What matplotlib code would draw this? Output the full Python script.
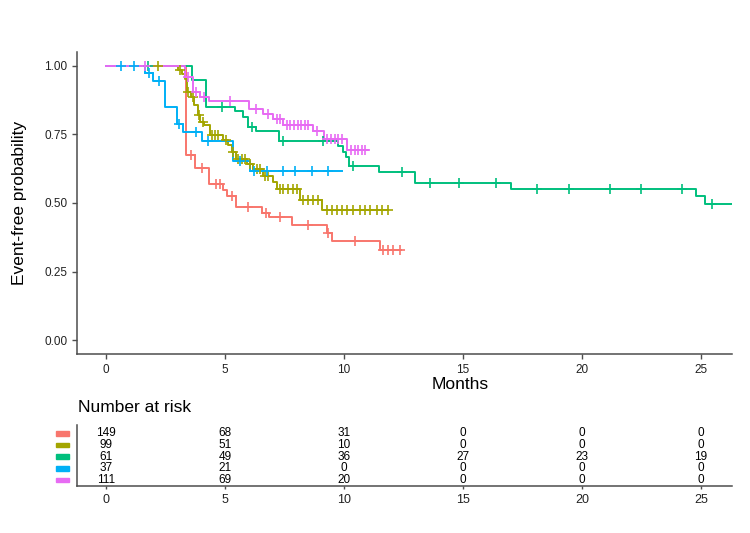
import numpy as np
import matplotlib
matplotlib.use("Agg")
import matplotlib.pyplot as plt
from matplotlib.patches import Rectangle
from matplotlib.transforms import blended_transform_factory

plt.rcParams["font.family"] = ["Liberation Sans", "DejaVu Sans"]

# ggplot default hue palette, 5 groups
colors = ["#F8766D", "#A3A500", "#00BF7D", "#00B0F6", "#E76BF3"]

# step times (months) and survival just after each step
red_t = [3.38, 3.72, 4.33, 4.90, 5.07, 5.47, 6.54, 6.86, 7.83, 9.27, 9.51, 11.51]
red_s = [0.674, 0.627, 0.570, 0.547, 0.525, 0.486, 0.465, 0.449, 0.418, 0.390, 0.360, 0.327]
red_c = [3.57, 4.02, 4.60, 4.80, 5.28, 5.98, 6.71, 7.31, 8.50, 9.34, 10.46,
         11.62, 11.86, 12.07, 12.35]
red_end = 12.41

olive_t = [3.04, 3.18, 3.30, 3.42, 3.58, 3.70, 3.86, 3.95, 4.12, 4.37, 4.93, 5.12,
           5.28, 5.45, 5.91, 6.19, 6.61, 7.03, 7.17, 8.15, 9.06]
olive_s = [0.985, 0.970, 0.954, 0.905, 0.885, 0.856, 0.820, 0.796, 0.783, 0.747,
           0.729, 0.710, 0.686, 0.662, 0.644, 0.625, 0.600, 0.577, 0.552, 0.512, 0.473]
olive_c = [2.17, 3.11, 3.46, 3.67, 3.92, 4.09, 4.44, 4.58, 4.72, 5.03, 5.35, 5.56,
           5.70, 5.84, 6.05, 6.33, 6.47, 6.68, 6.82, 7.31, 7.45, 7.66, 7.87, 8.01,
           8.29, 8.50, 8.71, 8.92, 9.27, 9.48, 9.69, 9.90, 10.11, 10.39, 10.67,
           10.88, 11.09, 11.37, 11.58, 11.86]
olive_end = 11.86

green_t = [3.60, 4.19, 5.40, 5.77, 5.98, 6.30, 7.27, 9.76, 9.95, 10.10, 10.20,
           11.48, 12.97, 17.03, 24.80, 25.18]
green_s = [0.949, 0.851, 0.836, 0.814, 0.777, 0.763, 0.725, 0.707, 0.686, 0.668,
           0.634, 0.613, 0.574, 0.552, 0.524, 0.498]
green_c = [1.75, 4.86, 6.12, 7.42, 9.13, 10.38, 12.44, 13.63, 14.85, 16.39, 18.09,
           19.45, 21.19, 22.47, 24.19, 25.48]
green_end = 26.28

blue_t = [1.64, 1.99, 2.49, 3.00, 3.25, 4.05, 5.35, 6.05]
blue_s = [0.973, 0.946, 0.851, 0.790, 0.760, 0.727, 0.653, 0.616]
blue_c = [0.63, 1.19, 1.82, 2.24, 3.08, 3.76, 4.30, 5.63, 6.23, 6.78, 7.45, 7.94,
          8.64, 9.34]
blue_end = 9.90

pink_t = [3.32, 3.66, 3.95, 4.32, 6.00, 6.61, 7.03, 7.45, 8.69, 9.14, 10.11]
pink_s = [0.958, 0.906, 0.888, 0.872, 0.844, 0.826, 0.808, 0.783, 0.763, 0.735, 0.695]
pink_c = [1.65, 3.45, 3.80, 4.10, 5.21, 6.30, 6.82, 7.17, 7.31, 7.60, 7.75, 7.90,
          8.05, 8.20, 8.35, 8.50, 8.85, 9.30, 9.45, 9.60, 9.75, 9.90, 10.30,
          10.45, 10.60, 10.75, 10.90]
pink_end = 11.0

risk_times = [0, 5, 10, 15, 20, 25]
risk_red = [149, 68, 31, 0, 0, 0]
risk_olive = [99, 51, 10, 0, 0, 0]
risk_green = [61, 49, 36, 27, 23, 19]
risk_blue = [37, 21, 0, 0, 0, 0]
risk_pink = [111, 69, 20, 0, 0, 0]

curves = [
    (red_t, red_s, red_c, red_end),
    (olive_t, olive_s, olive_c, olive_end),
    (green_t, green_s, green_c, green_end),
    (blue_t, blue_s, blue_c, blue_end),
    (pink_t, pink_s, pink_c, pink_end),
]
risks = [risk_red, risk_olive, risk_green, risk_blue, risk_pink]

W, H = 750, 533
fig = plt.figure(figsize=(7.5, 5.33), dpi=100)

def px_axes(l, t, r, b):
    return fig.add_axes([l / W, 1 - b / H, (r - l) / W, (b - t) / H])

AX_COL = "#4D4D4D"
XLIM = (-1.22, 26.3)
NARROW = ["Liberation Sans Narrow", "Liberation Sans", "DejaVu Sans"]

# ---- survival curves ----
ax = px_axes(77, 52, 732, 354)
for (t, s, c, end), col in zip(curves, colors):
    tt = np.array([0] + list(t) + [end])
    ss = np.array([1.0] + list(s) + [s[-1]])
    ax.step(tt, ss, where="post", color=col, lw=1.4, zorder=3)
    idx = np.searchsorted(tt, np.array(c), side="right") - 1
    ax.plot(c, ss[idx], ls="none", marker="+", ms=7, mew=1.2, color=col, zorder=4)

ax.set_xlim(*XLIM)
ax.set_ylim(-0.051, 1.051)
ax.set_xticks([0, 5, 10, 15, 20, 25])
ax.set_yticks([0, 0.25, 0.5, 0.75, 1.0])
ax.set_yticklabels(["0.00", "0.25", "0.50", "0.75", "1.00"])
for sp in ["top", "right"]:
    ax.spines[sp].set_visible(False)
for sp in ["left", "bottom"]:
    ax.spines[sp].set_color(AX_COL)
    ax.spines[sp].set_linewidth(1.1)
ax.tick_params(colors=AX_COL, labelcolor="#222222", labelsize=8.5, length=3.5, width=1)
ax.set_ylabel("Event-free probability", fontsize=12.5, labelpad=12)
ax.set_xlabel("Months", fontsize=12.5, labelpad=4)
ax.xaxis.set_label_coords((460 - 77) / 655, -0.075)

# ---- number at risk table ----
tab = px_axes(77, 425, 732, 486)
ypos = [5, 4, 3, 2, 1]
for row, y in zip(risks, ypos):
    for x, n in zip(risk_times, row):
        tab.text(x, y, str(n), ha="center", va="center", fontsize=8.5, family=NARROW)
tab.set_xlim(*XLIM)
tab.set_ylim(0.48, 5.7)
tab.set_xticks(risk_times)
tab.set_yticks([])
for sp in ["top", "right"]:
    tab.spines[sp].set_visible(False)
for sp in ["left", "bottom"]:
    tab.spines[sp].set_color(AX_COL)
    tab.spines[sp].set_linewidth(1.1)
tab.tick_params(colors=AX_COL, labelcolor="#222222", labelsize=9, length=2, width=1)
for lab in tab.get_xticklabels():
    lab.set_family(NARROW)

trans = blended_transform_factory(fig.transFigure, tab.transData)
for y, col in zip(ypos, colors):
    fig.patches.append(Rectangle((56 / W, y - 0.2), 13 / W, 0.4, transform=trans,
                                 color=col, clip_on=False))

fig.text(78 / W, 1 - 407 / H, "Number at risk", fontsize=12.5, va="center", ha="left")

fig.savefig("out.png", dpi=100)
